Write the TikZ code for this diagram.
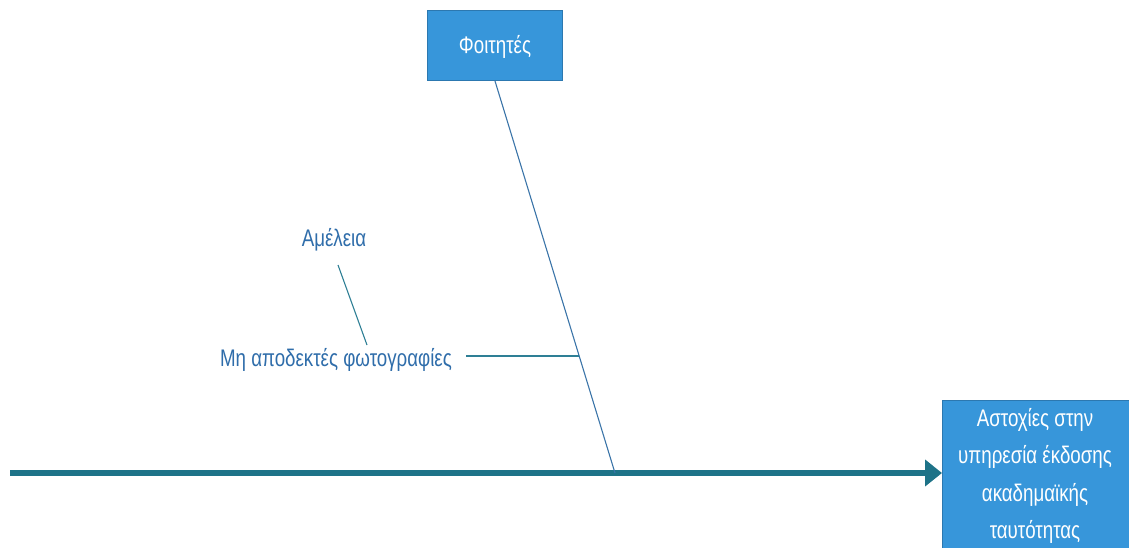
\documentclass[tikz,border=0pt]{standalone}
\usepackage{fontspec}
\setmainfont[FakeStretch=0.78]{Liberation Sans}
\usetikzlibrary{arrows.meta,calc}
\definecolor{boxfill}{HTML}{3796DA}
\definecolor{boxline}{HTML}{2C78B0}
\definecolor{spine}{HTML}{1E7388}
\definecolor{rib}{HTML}{3A74A8}
\definecolor{twig}{HTML}{2E7F95}
\definecolor{labeltext}{HTML}{2F6DAA}
\tikzset{
  catbox/.style={draw=boxline,line width=1pt,fill=boxfill,text=white,font=\fontsize{24}{27}\selectfont,inner sep=0pt},
  causetext/.style={text=labeltext,font=\fontsize{24}{27}\selectfont,inner sep=2pt},
  spineline/.style={spine,line width=5.5pt,-{Triangle[length=17pt,width=26pt]}},
  ribline/.style={rib,line width=1.1pt},
  twigline/.style={twig,line width=1.6pt},
  subline/.style={twig,line width=1.1pt}
}
\begin{document}
\begin{tikzpicture}[x=1pt,y=-1pt]
\useasboundingbox (0,0) rectangle (1129,547);
\clip (0,0) rectangle (1129,547);
% effect (head of the fish)
\node[catbox,anchor=north west,minimum width=195pt,minimum height=160pt] (effect) at (942,400) {};
\node[anchor=north,text=white,font=\fontsize{24}{37.5}\selectfont,align=center,inner sep=0pt] (effecttext) at (1035,408) {Αστοχίες στην\\υπηρεσία έκδοσης\\ακαδημαϊκής\\ταυτότητας};
% category
\node[catbox,anchor=north west,minimum width=135pt,minimum height=70pt,text depth=2pt] (foit) at (427,10) {Φοιτητές};
% spine
\coordinate (tail) at (10,473);
\coordinate (joint) at (615,473);
\draw[spineline] (tail) -- (tail -| effect.west);
% main rib
\draw[ribline] (foit.south) -- (joint);
% cause on the rib
\coordinate (ribpt) at ($(foit.south)!0.7023!(joint)$);
\node[causetext,anchor=east] (cause) at (454,360) {Μη αποδεκτές φωτογραφίες};
\coordinate (causeend) at (466,356);
\draw[twigline] (causeend) -- (causeend -| ribpt);
% sub-cause
\node[causetext] (sub) at (334,240) {Αμέλεια};
\coordinate (subtop) at (338,265);
\coordinate (subbot) at (367,345);
\draw[subline] (subtop) -- (subbot);
\end{tikzpicture}
\end{document}
